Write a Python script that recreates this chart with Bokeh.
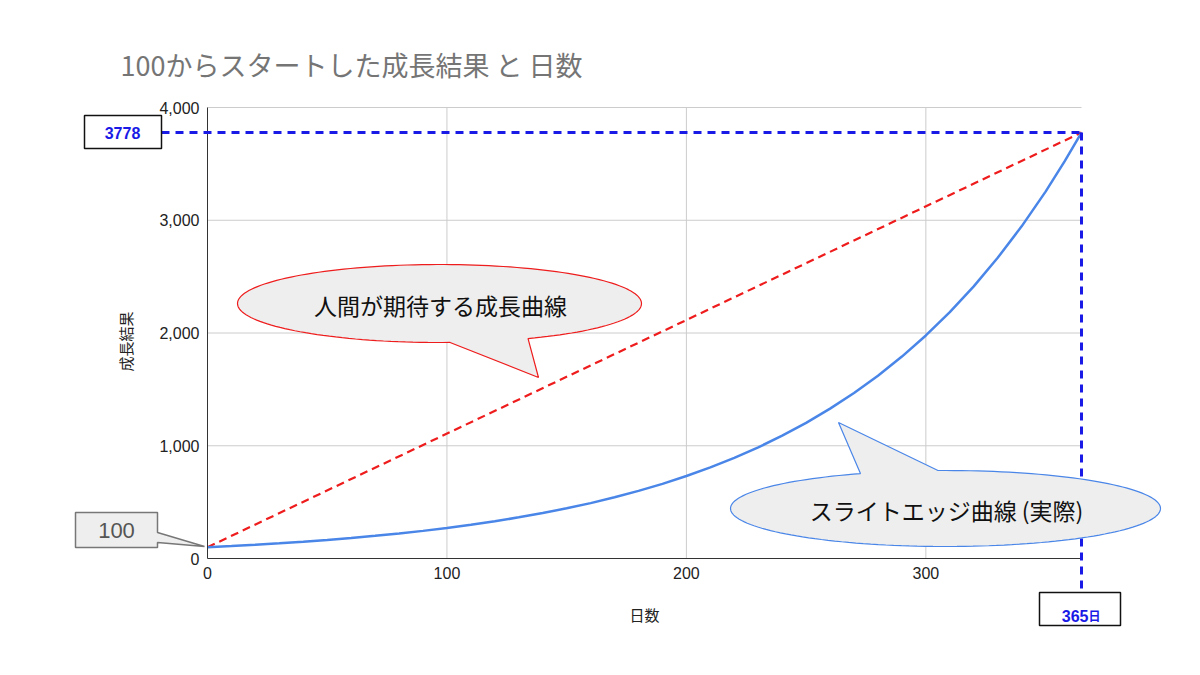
import numpy as np
from bokeh.plotting import figure
from bokeh.models import (Range1d, FixedTicker, NumeralTickFormatter, Label,
                          PolyAnnotation, Arrow, LinearAxis)
from bokeh.embed import file_html
from bokeh.resources import INLINE

# values
days = [0, 10, 20, 30, 40, 50, 60, 70, 80, 90, 100, 110, 120, 130, 140, 150, 160,
        170, 180, 190, 200, 210, 220, 230, 240, 250, 260, 270, 280, 290, 300, 310,
        320, 330, 340, 350, 358, 365]
growth = [100, 110, 122, 135, 149, 164, 182, 201, 222, 245, 270, 299, 330, 365,
          403, 445, 491, 543, 600, 662, 732, 808, 893, 986, 1089, 1203, 1329, 1468,
          1621, 1791, 1978, 2186, 2414, 2667, 2946, 3254, 3524, 3778]

expected_days = [0, 365]
expected = [100, 3778]

x_ticks = [0, 100, 200, 300]
y_ticks = [0, 1000, 2000, 3000, 4000]

title_text = "100からスタートした成長結果 と 日数"
x_label = "日数"
y_label = "成長結果"
expect_note = "人間が期待する成長曲線"
actual_note = "スライトエッジ曲線 (実際)"
day_unit = "日"

JP = "Noto Sans CJK JP"
NUM = "Liberation Sans"
BLUE = "#4a86e8"
RED = "#ee1c1c"
MARK = "#1a1ae6"

W, H = 1184, 659


# page pixel -> data units (plot area: x 207..1081, y 558..107)
def dx(px):
    return (px - 207) * 365 / 874


def dy(py):
    return (558 - py) * 4000 / 451


# the frame fills the whole canvas so that notes outside the plot area are not clipped
p = figure(width=W, height=H, x_range=Range1d(dx(0), dx(W)), y_range=Range1d(dy(H), dy(0)),
           output_backend="svg", toolbar_location=None, title=None,
           x_axis_location=None, y_axis_location=None, min_border=0)
p.outline_line_color = None
p.background_fill_color = "white"
p.border_fill_color = "white"
p.xgrid.visible = False
p.ygrid.visible = False

xaxis = LinearAxis(fixed_location=0, bounds=(0, days[-1]), ticker=FixedTicker(ticks=x_ticks))
yaxis = LinearAxis(fixed_location=0, bounds=(0, 4000), ticker=FixedTicker(ticks=y_ticks),
                   formatter=NumeralTickFormatter(format="0,0"))
for ax in (xaxis, yaxis):
    ax.axis_line_color = "#333333"
    ax.axis_line_width = 1
    ax.major_tick_line_color = None
    ax.minor_tick_line_color = None
    ax.major_tick_out = 0
    ax.major_tick_in = 0
    ax.major_label_text_font = NUM
    ax.major_label_text_font_size = "16px"
    ax.major_label_text_color = "#222222"
    ax.major_label_standoff = 8
p.add_layout(xaxis, "below")
p.add_layout(yaxis, "left")

# grid lines over the plot area only
p.segment(x0=x_ticks[1:], y0=0, x1=x_ticks[1:], y1=4000, line_color="#cccccc", line_width=1)
p.segment(x0=0, y0=y_ticks[1:], x1=days[-1], y1=y_ticks[1:], line_color="#cccccc", line_width=1)

p.line(expected_days, expected, line_color=RED, line_width=2.2, line_dash="8 5")
p.line(days, growth, line_color=BLUE, line_width=2.5)

p.add_layout(Label(x=dx(120), y=dy(64), text=title_text, text_font=JP, text_font_size="27px",
                   text_color="#757575", text_align="left", text_baseline="middle"))
p.add_layout(Label(x=dx(644), y=dy(614), text=x_label, text_font=JP, text_font_size="15px",
                   text_color="#222222", text_align="center", text_baseline="middle"))
p.add_layout(Label(x=dx(125), y=dy(341), text=y_label, text_font=JP, text_font_size="15px",
                   text_color="#222222", text_align="center", text_baseline="middle",
                   angle=np.pi / 2))

# final value guides (under the notes)
p.add_layout(Arrow(end=None, x_start=dx(161), y_start=growth[-1], x_end=days[-1], y_end=growth[-1],
                   line_color=MARK, line_width=3, line_dash="8 6"))
p.add_layout(Arrow(end=None, x_start=days[-1], y_start=growth[-1], x_end=days[-1], y_end=dy(592),
                   line_color=MARK, line_width=3, line_dash="8 6"))


def bubble(cx, cy, a, b, t0, t1, tip):
    ang = np.radians(np.linspace(t1, t0 + 360, 160))
    xs = list(cx + a * np.cos(ang)) + [tip[0]]
    ys = list(cy + b * np.sin(ang)) + [tip[1]]
    return [dx(v) for v in xs], [dy(v) for v in ys]


def shape(xs, ys, fill, line, width=1.3):
    return PolyAnnotation(xs=[dx(v) for v in xs], ys=[dy(v) for v in ys],
                          fill_color=fill, fill_alpha=1, line_color=line, line_alpha=1,
                          line_width=width)


bx, by = bubble(439, 303, 202, 39, 64, 87, (538, 377))
p.add_layout(PolyAnnotation(xs=bx, ys=by, fill_color="#eeeeee", fill_alpha=1,
                            line_color=RED, line_alpha=1, line_width=1.2))
p.add_layout(Label(x=dx(440), y=dy(304), text=expect_note, text_font=JP, text_font_size="23px",
                   text_color="#111111", text_align="center", text_baseline="middle"))

bx, by = bubble(945, 508, 215, 38, 246.7, 268, (838, 422))
p.add_layout(PolyAnnotation(xs=bx, ys=by, fill_color="#eeeeee", fill_alpha=1,
                            line_color=BLUE, line_alpha=1, line_width=1.2))
p.add_layout(Label(x=dx(946), y=dy(509), text=actual_note, text_font=JP, text_font_size="23px",
                   text_color="#111111", text_align="center", text_baseline="middle"))

# start value callout
p.add_layout(shape([75, 157, 157, 204, 157, 157, 75], [512, 512, 532, 546, 542, 547, 547],
                   "#eeeeee", "#777777", 1.5))
p.add_layout(Label(x=dx(116), y=dy(530), text=str(growth[0]), text_font=NUM, text_font_size="22px",
                   text_color="#555555", text_align="center", text_baseline="middle"))

# final value boxes
p.add_layout(shape([84, 161, 161, 84], [115, 115, 148, 148], "white", "#111111", 1.5))
p.add_layout(Label(x=dx(122), y=growth[-1], text=str(growth[-1]), text_font=NUM, text_font_size="16px",
                   text_font_style="bold", text_color=MARK, text_align="center", text_baseline="middle"))

p.add_layout(shape([1039, 1120, 1120, 1039], [592, 592, 625, 625], "white", "#111111", 1.5))
p.add_layout(Label(x=dx(1088), y=dy(615), text=str(days[-1]), text_font=NUM, text_font_size="16px",
                   text_font_style="bold", text_color=MARK, text_align="right", text_baseline="alphabetic"))
p.add_layout(Label(x=dx(1088), y=dy(615), text=day_unit, text_font=JP, text_font_size="12px",
                   text_font_style="bold", text_color=MARK, text_align="left", text_baseline="alphabetic"))

open("out.html", "w").write(file_html(p, INLINE))
